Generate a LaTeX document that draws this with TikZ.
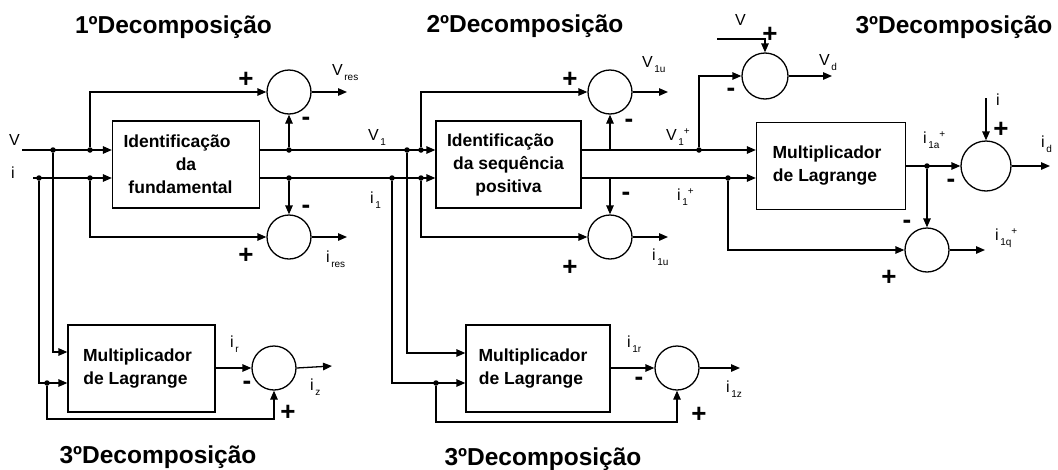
\documentclass[tikz,border=0pt]{standalone}
\usepackage{fontspec}
\setmainfont{Liberation Sans}
\usetikzlibrary{arrows.meta}
\newcommand{\sbx}[2]{#1\kern1.5pt\raisebox{-5pt}{\fontsize{10}{10}\selectfont #2}}
\newcommand{\sbp}[2]{#1\kern1.5pt\raisebox{-5pt}{\fontsize{10}{10}\selectfont #2}\raisebox{6pt}{\fontsize{10}{10}\selectfont +}}
\newcommand{\pad}[1]{\hspace*{#1pt}}
\begin{document}
\begin{tikzpicture}[x=1pt,y=-1pt,
 arr/.style={line width=1.3pt,-{Triangle[length=9pt,width=7.5pt]}},
 blk/.style={draw,line width=1.3pt,minimum width=147pt,minimum height=87pt,align=center,font=\fontsize{17.5}{23}\selectfont\bfseries,inner sep=0},
 sum/.style={draw,line width=1.3pt,circle,minimum size=44pt,inner sep=0},
 ttl/.style={font=\fontsize{24.5}{28}\selectfont\bfseries,anchor=base,inner sep=0},
 sg/.style={font=\fontsize{26}{26}\selectfont\bfseries,inner sep=0},
 lb/.style={font=\fontsize{16}{16}\selectfont,inner sep=0,anchor=base west},
 dot/.style={circle,fill,inner sep=0,minimum size=5.5pt}
]
\useasboundingbox (0,0) rectangle (1058,469);

% titles
\node[ttl] (t1) at (173.5,33) {1ºDecomposição};
\node[ttl] (t2) at (525,32) {2ºDecomposição};
\node[ttl] (t3) at (954,33) {3ºDecomposição};
\node[ttl] (t4) at (158,463) {3ºDecomposição};
\node[ttl] (t5) at (543,465) {3ºDecomposição};

% blocks
\node[blk] (B1) at (186,164.5) {Identificação\pad{18}\\da\pad{5}\\fundamental\pad{11}};
\node[blk,minimum width=145pt] (B2) at (508.5,164.5) {Identificação\pad{16}\\da sequência\pad{5}\\positiva};
\node[blk,minimum width=149pt] (B3) at (831,166) {Multiplicador\pad{8}\\de Lagrange\pad{12}};
\node[blk] (B4) at (141.5,368.5) {Multiplicador\pad{8}\\de Lagrange\pad{12}};
\node[blk,minimum width=144pt] (B5) at (538,368.5) {Multiplicador\pad{10}\\de Lagrange\pad{14}};

% summing junctions
\node[sum] (S1) at (289,92) {};
\node[sum] (S2) at (289,237) {};
\node[sum] (S3) at (610,92) {};
\node[sum] (S4) at (610,237) {};
\node[sum,minimum size=46pt] (Sv) at (765,76) {};
\node[sum,minimum size=50pt] (Sd) at (986,166) {};
\node[sum] (Sq) at (927,250) {};
\node[sum] (Sz) at (274,368) {};
\node[sum] (Sz1) at (677,368) {};

% coordinates and junction dots
\coordinate (Vin) at (22,150);
\coordinate (iin) at (33,178);
\node[dot] (jV0) at (53,150) {};
\node[dot] (ji0) at (39,178) {};
\node[dot] (jV1) at (90,150) {};
\node[dot] (ji1) at (90,178) {};
\node[dot] (kV) at (289,150) {};
\node[dot] (ki) at (289,178) {};
\node[dot] (jV2) at (407,150) {};
\node[dot] (ji2) at (392,178) {};
\node[dot] (jV3) at (421,150) {};
\node[dot] (ji3) at (421,178) {};
\coordinate (kV2) at (610,150);
\coordinate (ki2) at (610,178);
\node[dot] (jVp) at (699,150) {};
\node[dot] (jip) at (728,178) {};
\node[dot] (ja) at (927,166) {};
\coordinate (jV4) at (53,352);
\coordinate (ji4) at (39,383);
\node[dot] (fb4) at (47,383) {};
\coordinate (fb4b) at (47,419);
\coordinate (jV5) at (407,353);
\coordinate (ji5) at (392,383);
\node[dot] (fb5) at (436,383) {};
\coordinate (fb5b) at (436,422);
\coordinate (oVres) at (347,92);
\coordinate (oires) at (347,237);
\coordinate (oV1u) at (668,92);
\coordinate (oi1u) at (668,237);
\coordinate (Vsrc) at (717,39);
\coordinate (oVd) at (832,76);
\coordinate (isrc) at (986,98);
\coordinate (oid) at (1050,166);
\coordinate (oiq) at (985,250);
\coordinate (oiz) at (332,366);
\coordinate (oi1z) at (740,368);

% first decomposition
\draw[arr] (Vin) -- (B1.west |- Vin);
\draw[arr] (iin) -- (B1.west |- iin);
\draw[arr] (jV1) |- (S1.west);
\draw[arr] (ji1) |- (S2.west);
\draw[arr] (B1.east |- Vin) -- (B2.west |- Vin);
\draw[arr] (B1.east |- iin) -- (B2.west |- iin);
\draw[arr] (kV) -- (S1.south);
\draw[arr] (ki) -- (S2.north);
\draw[arr] (S1.east) -- (oVres);
\draw[arr] (S2.east) -- (oires);
% lower left
\draw[arr] (jV0) -- (jV4) -- (B4.west |- jV4);
\draw[arr] (ji0) -- (ji4) -- (B4.west |- ji4);
\draw[arr] (fb4) -- (fb4b) -| (Sz.south);
\draw[arr] (B4.east |- Sz) -- (Sz.west);
\draw[arr] (Sz.east) -- (oiz);
% second decomposition
\draw[arr] (jV3) |- (S3.west);
\draw[arr] (ji3) |- (S4.west);
\draw[arr] (B2.east |- Vin) -- (B3.west |- Vin);
\draw[arr] (B2.east |- iin) -- (B3.west |- iin);
\draw[arr] (kV2) -- (S3.south);
\draw[arr] (ki2) -- (S4.north);
\draw[arr] (S3.east) -- (oV1u);
\draw[arr] (S4.east) -- (oi1u);
% lower middle
\draw[arr] (jV2) -- (jV5) -- (B5.west |- jV5);
\draw[arr] (ji2) -- (ji5) -- (B5.west |- ji5);
\draw[arr] (fb5) -- (fb5b) -| (Sz1.south);
\draw[arr] (B5.east |- Sz1) -- (Sz1.west);
\draw[arr] (Sz1.east) -- (oi1z);
% third decomposition (right)
\draw[arr] (jVp) |- (Sv.west);
\draw[arr] (Vsrc) -| (Sv.north);
\draw[arr] (Sv.east) -- (oVd);
\draw[arr] (jip) |- (Sq.west);
\draw[arr] (B3.east |- Sd) -- (Sd.west);
\draw[arr] (ja) -- (Sq.north);
\draw[arr] (isrc) -- (Sd.north);
\draw[arr] (Sd.east) -- (oid);
\draw[arr] (Sq.east) -- (oiq);

% labels
\node[lb] (lV) at (9,145) {V};
\node[lb] (li) at (11,178) {i};
\node[lb] (lVres) at (332,75) {\sbx{V}{res}};
\node[lb] (lires) at (326,262) {\sbx{i}{res}};
\node[lb] (lV1) at (368,140) {\sbx{V}{1}};
\node[lb] (li1) at (370,203) {\sbx{i}{1}};
\node[lb] (lV1u) at (642,67) {\sbx{V}{1u}};
\node[lb] (li1u) at (652,260) {\sbx{i}{1u}};
\node[lb] (lV1p) at (666,140) {\sbp{V}{1}};
\node[lb] (li1p) at (677,200) {\sbp{i}{1}};
\node[lb] (lVt) at (735,25) {V};
\node[lb] (lVd) at (819,65) {\sbx{V}{d}};
\node[lb] (li1a) at (923,143) {\sbp{i}{1a}};
\node[lb] (lit) at (996,105) {i};
\node[lb] (lid) at (1041,147) {\sbx{i}{d}};
\node[lb] (li1q) at (995,240) {\sbp{i}{1q}};
\node[lb] (lir) at (230,347) {\sbx{i}{r}};
\node[lb] (liz) at (310,390) {\sbx{i}{z}};
\node[lb] (li1r) at (627,347) {\sbx{i}{1r}};
\node[lb] (li1z) at (726,392) {\sbx{i}{1z}};

% signs
\node[sg] (p1) at (246,80) {+};  \node[sg] (m1) at (306,121) {-};
\node[sg] (m2) at (306,209) {-}; \node[sg] (p2) at (246,256) {+};
\node[sg] (p3) at (570,80) {+};  \node[sg] (m3) at (629,123) {-};
\node[sg] (m4) at (626,196) {-}; \node[sg] (p4) at (570,268) {+};
\node[sg] (pv) at (770,35) {+};  \node[sg] (mv) at (731,92) {-};
\node[sg] (pd) at (1001,130) {+}; \node[sg] (md) at (951,183) {-};
\node[sg] (mq) at (907,224) {-}; \node[sg] (pq) at (889,278) {+};
\node[sg] (mz) at (247,385) {-}; \node[sg] (pz) at (288,413) {+};
\node[sg] (mz1) at (639,381) {-}; \node[sg] (pz1) at (699,415) {+};
\end{tikzpicture}
\end{document}
